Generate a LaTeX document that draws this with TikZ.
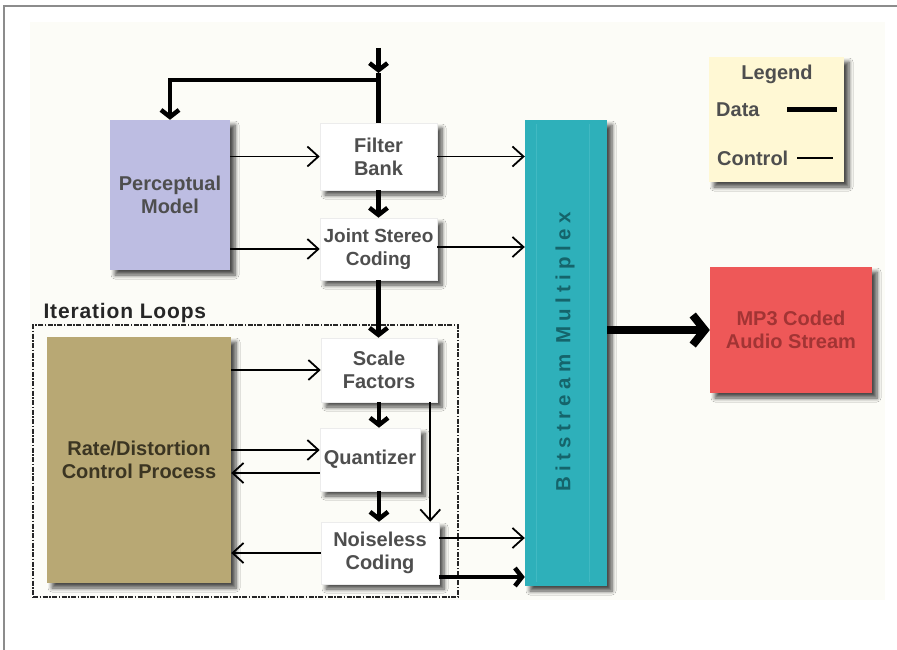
\documentclass[tikz,border=0pt]{standalone}
\usepackage{fontspec}
\setmainfont{Liberation Sans}
\usetikzlibrary{arrows.meta,shadows.blur,calc}

\definecolor{framegray}{HTML}{8C8C8C}
\definecolor{paper}{HTML}{FCFCF7}
\definecolor{percfill}{HTML}{BDBDE2}
\definecolor{rdfill}{HTML}{B8A874}
\definecolor{bmfill}{HTML}{2EB0BA}
\definecolor{bmstripe}{HTML}{4FC0C8}
\definecolor{bmtext}{HTML}{15646B}
\definecolor{mp3fill}{HTML}{EE5858}
\definecolor{mp3text}{HTML}{A23434}
\definecolor{legfill}{HTML}{FFF8D4}
\definecolor{labelgray}{HTML}{4E4E4E}
\definecolor{rdtext}{HTML}{3B3522}

\tikzset{
  block/.style={rectangle, inner sep=0pt, align=center, text=labelgray,
    blur shadow={shadow xshift=5pt, shadow yshift=-5pt, shadow blur radius=4pt,
      shadow blur steps=6, shadow opacity=70}},
  whitebox/.style={block, fill=white, draw=gray!15, line width=0.6pt},
  datalink/.style={line width=4.5pt, -{Straight Barb[length=7pt,width=18pt]}},
  datawide/.style={line width=8pt, -{Straight Barb[length=12pt,width=30pt]}},
  ctrllink/.style={line width=1.8pt, -{Straight Barb[length=11pt,width=20pt]}},
  loopsbox/.style={rectangle, draw=black!85, line width=1.4pt,
    dash pattern=on 5pt off 1.5pt on 1.5pt off 1.5pt, inner sep=0pt}
}

\begin{document}
\begin{tikzpicture}[x=1pt, y=-1pt, font=\bfseries\fontsize{20}{23}\selectfont]
  \useasboundingbox (0,0) rectangle (897,650);

  % page frame and paper
  \draw[framegray, line width=2.5pt] (897,6) -- (4,6) -- (4,650);
  \fill[paper] (30,22) rectangle (885,600);

  % iteration loops enclosure
  \node[loopsbox, minimum width=425, minimum height=272] (loops) at (245.5,461) {};
  \node[anchor=base west, text=black!85, font=\bfseries\fontsize{21}{24}\selectfont\addfontfeature{LetterSpace=4}]
    (loopslabel) at (40,318) {Iteration Loops};

  % blocks
  \node[block, fill=percfill, minimum width=120, minimum height=150] (perc) at (170,195) {Perceptual\\Model};
  \node[whitebox, minimum width=117, minimum height=67] (fb) at (378.5,156.5) {Filter\\Bank};
  \node[whitebox, minimum width=117, minimum height=62, font=\bfseries\fontsize{19}{23}\selectfont] (js) at (378.5,249) {Joint Stereo\\Coding};
  \node[whitebox, minimum width=116, minimum height=64] (sf) at (379,370) {Scale\\Factors};
  \node[whitebox, minimum width=100, minimum height=63] (qz) at (370,459.5) {Quantizer};
  \node[whitebox, minimum width=118, minimum height=62] (nc) at (380,553) {Noiseless\\Coding};
  \node[block, fill=rdfill, text=rdtext, minimum width=184, minimum height=246] (rd) at (139,460) {Rate/Distortion\\Control Process};
  \node[block, fill=bmfill, minimum width=82, minimum height=466] (bm) at (566,353) {};
  \node[block, fill=mp3fill, text=mp3text, minimum width=162, minimum height=126] (mp3) at (791,330) {MP3 Coded\\Audio Stream};
  \node[block, fill=legfill, minimum width=135, minimum height=125] (leg) at (776.5,119.5) {};

  % multiplex column shading stripes and title
  \draw[bmstripe, line width=1pt, opacity=0.6] ($(bm.north west)+(12,4)$) -- ($(bm.south west)+(12,-4)$);
  \draw[bmstripe, line width=1pt, opacity=0.6] ($(bm.north east)+(-18,4)$) -- ($(bm.south east)+(-18,-4)$);
  \node[rotate=90, text=bmtext, font=\bfseries\fontsize{20.5}{23}\selectfont\addfontfeature{LetterSpace=26}]
    (bmlabel) at (565,352) {Bitstream Multiplex};

  % legend contents
  \node[text=labelgray] (legtitle) at (777,74) {Legend};
  \node[anchor=west, text=labelgray, inner sep=0pt] (legdata) at (716,110) {Data};
  \node[anchor=west, text=labelgray, inner sep=0pt] (legctrl) at (717,158) {Control};
  \draw[line width=5pt] (787,110) -- (837,110);
  \draw[line width=1.8pt] (797,158) -- (833,158);

  % audio input and its branch to the perceptual model
  \coordinate (in) at (fb.north |- 0,48);
  \coordinate (inmid) at (fb.north |- 0,73);
  \coordinate (branch) at (fb.north |- 0,80);
  \draw[datalink] (in) -- (inmid);
  \draw[line width=4.5pt] (inmid) -- (fb.north);
  \draw[datalink] (branch) -| (perc.north);

  % data path through the coder
  \draw[datalink] (fb.south) -- (js.north);
  \draw[datalink] (js.south) -- (js.south |- sf.north);
  \draw[datalink] (sf.south) -- (sf.south |- qz.north);
  \draw[datalink] (sf.south |- qz.south) -- (sf.south |- nc.north);
  \draw[datalink] ([yshift=-24pt]nc.east) -- ([yshift=-24pt]nc.east -| bm.west);
  \draw[datawide] (bm.east |- mp3) -- (mp3.west);

  % control paths
  \draw[ctrllink] (perc.east |- fb) -- (fb.west);
  \draw[ctrllink] (perc.east |- js) -- (js.west);
  \draw[ctrllink] (fb.east) -- (fb.east -| bm.west);
  \draw[ctrllink] ([yshift=2pt]js.east) -- ([yshift=2pt]js.east -| bm.west);
  \draw[ctrllink] (rd.east |- sf) -- (sf.west);
  \draw[ctrllink] (rd.east |- 0,450) -- (qz.west |- 0,450);
  \draw[ctrllink] (qz.west |- 0,473) -- (rd.east |- 0,473);
  \draw[ctrllink] (nc.west) -- (nc.west -| rd.east);
  \draw[ctrllink] ([xshift=-7pt]sf.south east) -- ([xshift=-7pt]sf.south east |- nc.north);
  \draw[ctrllink] ([yshift=15pt]nc.east) -- ([yshift=15pt]nc.east -| bm.west);
\end{tikzpicture}
\end{document}
